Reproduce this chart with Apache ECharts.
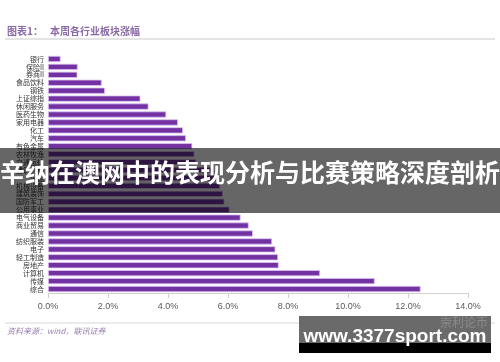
<!DOCTYPE html>
<html><head><meta charset="utf-8">
<script src="https://cdn.jsdelivr.net/npm/echarts@6/dist/echarts.min.js"></script>
<style>html,body{margin:0;padding:0;background:#fff}#c{width:500px;height:362px}</style>
</head><body><div id="c"></div>
<script>
var categories = ['银行','保险II','券商II','食品饮料','钢铁','上证综指','休闲服务','医药生物','家用电器','化工','汽车','有色金属','农林牧渔','交通运输','建筑材料','采掘','机械设备','建筑装饰','国防军工','公用事业','电气设备','商业贸易','通信','纺织服装','电子','轻工制造','房地产','计算机','传媒','综合'];
var values = [0.42,0.99,0.98,1.79,1.90,3.08,3.35,3.94,4.33,4.50,4.60,4.81,4.88,4.94,5.52,5.62,5.74,5.83,5.88,6.05,6.42,6.69,6.83,7.47,7.58,7.67,7.69,9.07,10.89,12.42];
var xTicks = [0,2,4,6,8,10,12,14];
var titleLead = '图表1：';
var titleText = '本周各行业板块涨幅';
var sourceText = '资料来源：wind，联讯证券';
var bannerText = '辛纳在澳网中的表现分析与比赛策略深度剖析';
var siteText = 'www.3377sport.com';
var markText = '崇利论币';

var chart = echarts.init(document.getElementById('c'));
chart.setOption({
  animation:false,
  backgroundColor:'#fff',
  grid:{left:48,right:32,top:55,bottom:69,containLabel:false},
  xAxis:{type:'value',min:xTicks[0],max:xTicks[xTicks.length-1],interval:2,
    axisLine:{show:true,lineStyle:{color:'#d0d0d0'}},
    axisTick:{show:true,length:5,lineStyle:{color:'#d0d0d0'}},
    splitLine:{show:false},
    axisLabel:{color:'#595959',fontSize:9,margin:9,fontFamily:'Liberation Sans',formatter:function(v){return v.toFixed(1)+'%';}}
  },
  yAxis:{type:'category',data:categories,inverse:true,
    axisLine:{show:false},axisTick:{show:false},
    axisLabel:{color:'#333',fontSize:7,margin:4,interval:0,fontFamily:'Noto Sans CJK SC'}
  },
  series:[{type:'bar',data:values,barWidth:6.2,
    itemStyle:{color:'#7232a2',borderColor:'#dcc0f2',borderWidth:0.8}}],
  graphic:[
    {type:'text',left:7,top:26,style:{text:titleLead,fill:'#8a6aa6',font:'bold 10px "Noto Sans CJK SC"'}},
    {type:'text',left:50,top:26,style:{text:titleText,fill:'#8a6aa6',font:'bold 10px "Noto Sans CJK SC"'}},
    {type:'line',shape:{x1:5,y1:39,x2:495,y2:39},style:{stroke:'#c8c8c8',lineWidth:1}},
    {type:'line',shape:{x1:5,y1:323,x2:495,y2:323},style:{stroke:'#d8d8d8',lineWidth:1}},
    {type:'text',left:7,top:327,style:{text:sourceText,fill:'#9a80b0',font:'italic 8px "Noto Sans CJK SC"'}},
    {type:'rect',z:100,shape:{x:0,y:148,width:500,height:65},style:{fill:'rgba(0,0,0,0.6)'}},
    {type:'text',z:101,x:250,y:172,style:{text:bannerText,fill:'#fff',font:'bold 25px "Noto Sans CJK SC"',align:'center',verticalAlign:'middle'}},
    {type:'rect',z:100,shape:{x:299,y:316,width:192,height:27},style:{fill:'#6a6a6a'}},
    {type:'rect',z:100,shape:{x:299,y:343,width:192,height:10},style:{fill:'#000'}},
    {type:'text',z:101,x:440,y:322,style:{text:markText,fill:'rgba(255,255,255,0.22)',font:'12px "Noto Sans CJK SC"',align:'left',verticalAlign:'middle'}},
    {type:'text',z:102,x:395,y:337,style:{text:siteText,fill:'#fff',font:'bold 19px "Liberation Sans"',align:'center',verticalAlign:'middle'}}
  ]
});
</script></body></html>
